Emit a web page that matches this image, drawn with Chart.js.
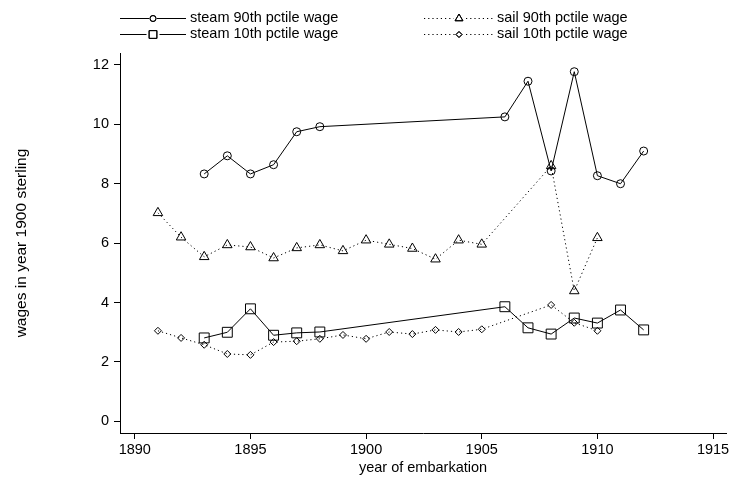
<!DOCTYPE html>
<html>
<head>
<meta charset="utf-8">
<script src="https://cdn.jsdelivr.net/npm/chart.js@4.4.1/dist/chart.umd.min.js"></script>
<style>
  body { margin: 0; background: #fff; }
  #wrap { width: 734px; height: 479px; }
</style>
</head>
<body>
<div id="wrap"><canvas id="wageChart" width="734" height="479"></canvas></div>
<script>
// years of embarkation
const steamYears = [1893, 1894, 1895, 1896, 1897, 1898, 1906, 1907, 1908, 1909, 1910, 1911, 1912];
const sailYears = [1891, 1892, 1893, 1894, 1895, 1896, 1897, 1898, 1899, 1900, 1901, 1902, 1903, 1904, 1905, 1908, 1909, 1910];

// wages (1900 sterling)
const steam90 = [8.33, 8.94, 8.33, 8.64, 9.75, 9.92, 10.25, 11.45, 8.43, 11.77, 8.27, 8.0, 9.1];
const steam10 = [2.81, 3.0, 3.79, 2.9, 2.98, 3.01, 3.86, 3.15, 2.94, 3.48, 3.31, 3.75, 3.08];
const sail90 = [7.02, 6.2, 5.54, 5.94, 5.87, 5.5, 5.84, 5.94, 5.74, 6.1, 5.96, 5.82, 5.46, 6.1, 5.96, 8.6, 4.39, 6.18];
const sail10 = [3.05, 2.81, 2.58, 2.27, 2.24, 2.67, 2.7, 2.78, 2.91, 2.78, 3.01, 2.94, 3.08, 3.01, 3.1, 3.92, 3.32, 3.05];

const xTicks = [1890, 1895, 1900, 1905, 1910, 1915];
const yTicks = [0, 2, 4, 6, 8, 10, 12];

const FONT = "'Liberation Sans', Arial, sans-serif";

function pts(xs, ys) {
  return xs.map((x, i) => ({ x: x, y: ys[i] }));
}

const dotted = [1.2, 3];

const datasets = [
  { label: "steam 90th pctile wage", data: pts(steamYears, steam90), pointStyle: "circle", pointRadius: 4, borderDash: [], legendCol: 0, legendRow: 0, legendRadius: 3 },
  { label: "steam 10th pctile wage", data: pts(steamYears, steam10), pointStyle: "rect", pointRadius: 7, borderDash: [], legendCol: 0, legendRow: 1, legendRadius: 5.5 },
  { label: "sail 90th pctile wage", data: pts(sailYears, sail90), pointStyle: "triangle", pointRadius: 5.5, borderDash: dotted, legendCol: 1, legendRow: 0, legendRadius: 4.5 },
  { label: "sail 10th pctile wage", data: pts(sailYears, sail10), pointStyle: "rectRot", pointRadius: 3.5, borderDash: dotted, legendCol: 1, legendRow: 1, legendRadius: 3 }
].map(d => Object.assign({
  borderColor: "#000",
  borderWidth: 1,
  backgroundColor: "rgba(0,0,0,0)",
  pointBorderColor: "#000",
  pointBorderWidth: 1,
  pointBackgroundColor: "rgba(255,255,255,0)",
  tension: 0,
  fill: false
}, d));

// two-column legend like the stata one
const legendCols = [
  { lineFrom: 120, lineTo: 186, text: 190 },
  { lineFrom: 424, lineTo: 494, text: 497 }
];
const legendRows = [18, 34];

const stataLegend = {
  id: "stataLegend",
  afterDraw(chart) {
    const ctx = chart.ctx;
    ctx.save();
    chart.data.datasets.forEach(ds => {
      const c = legendCols[ds.legendCol];
      const y = legendRows[ds.legendRow];
      ctx.strokeStyle = "#000";
      ctx.lineWidth = 1;
      ctx.setLineDash(ds.borderDash);
      ctx.beginPath();
      ctx.moveTo(c.lineFrom, y + 0.5);
      ctx.lineTo(c.lineTo, y + 0.5);
      ctx.stroke();
      ctx.setLineDash([]);
      const mid = (c.lineFrom + c.lineTo) / 2;
      ctx.fillStyle = "#fff";
      ctx.fillRect(mid - ds.legendRadius - 1, y - ds.legendRadius, ds.legendRadius * 2 + 2, ds.legendRadius * 2);
      Chart.helpers.drawPoint(ctx, { pointStyle: ds.pointStyle, radius: ds.legendRadius, borderWidth: 1 }, mid, y + 0.5);
      ctx.stroke();
      ctx.fillStyle = "#000";
      ctx.font = "14.5px " + FONT;
      ctx.textBaseline = "middle";
      ctx.textAlign = "left";
      ctx.fillText(ds.label, c.text, y);
    });
    ctx.restore();
  }
};

new Chart(document.getElementById("wageChart"), {
  type: "line",
  data: { datasets: datasets },
  plugins: [stataLegend],
  options: {
    responsive: false,
    animation: false,
    devicePixelRatio: 1,
    layout: { padding: { top: 53, right: 1, left: 0, bottom: 0 } },
    plugins: {
      legend: { display: false },
      tooltip: { enabled: false }
    },
    scales: {
      x: {
        type: "linear",
        min: 1889.36,
        max: 1915.56,
        afterBuildTicks: s => { s.ticks = xTicks.map(v => ({ value: v })); },
        afterFit: s => { s.height = 46; s.paddingLeft = 0; s.paddingRight = 0; },
        grid: { drawOnChartArea: false, drawTicks: true, tickLength: 6, color: "#000" },
        border: { display: true, color: "#000", width: 1 },
        ticks: { color: "#000", font: { family: FONT, size: 14.5 }, padding: 2, maxRotation: 0, autoSkip: false, callback: v => String(v) },
        title: { display: true, text: "year of embarkation", color: "#000", font: { family: FONT, size: 14.5 }, padding: { top: 0, bottom: 2 } }
      },
      y: {
        min: -0.39,
        max: 12.4,
        afterBuildTicks: s => { s.ticks = yTicks.map(v => ({ value: v })); },
        afterFit: s => { s.width = 120; s.paddingTop = 0; s.paddingBottom = 0; },
        grid: { drawOnChartArea: false, drawTicks: true, tickLength: 6, color: "#000" },
        border: { display: true, color: "#000", width: 1 },
        ticks: { color: "#000", font: { family: FONT, size: 14.5 }, padding: 5, callback: v => String(v) },
        title: { display: true, text: "wages in year 1900 sterling", color: "#000", font: { family: FONT, size: 15.5 }, padding: { top: 12, bottom: 0 } }
      }
    }
  }
});
</script>
</body>
</html>
